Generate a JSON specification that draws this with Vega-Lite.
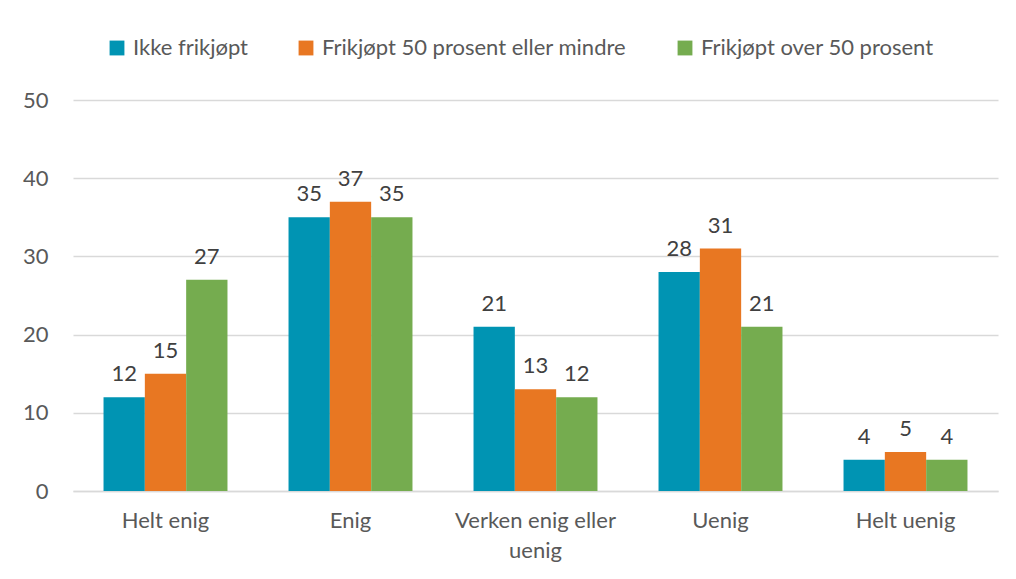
{
  "$schema": "https://vega.github.io/schema/vega-lite/v6.json",
  "width": 925,
  "height": 391,
  "autosize": {"type": "none"},
  "padding": {"left": 73, "top": 100, "right": 18, "bottom": 88},
  "background": "white",
  "config": {
    "font": "Lato",
    "view": {"stroke": null},
    "axis": {"labelFont": "Lato", "labelFontSize": 22, "labelColor": "#595959"}
  },
  "data": {
    "values": [
      {"kategori": "Helt enig", "gruppe": "Ikke frikjøpt", "verdi": 12},
      {"kategori": "Helt enig", "gruppe": "Frikjøpt 50 prosent eller mindre", "verdi": 15},
      {"kategori": "Helt enig", "gruppe": "Frikjøpt over 50 prosent", "verdi": 27},
      {"kategori": "Enig", "gruppe": "Ikke frikjøpt", "verdi": 35},
      {"kategori": "Enig", "gruppe": "Frikjøpt 50 prosent eller mindre", "verdi": 37},
      {"kategori": "Enig", "gruppe": "Frikjøpt over 50 prosent", "verdi": 35},
      {"kategori": "Verken enig eller uenig", "gruppe": "Ikke frikjøpt", "verdi": 21},
      {"kategori": "Verken enig eller uenig", "gruppe": "Frikjøpt 50 prosent eller mindre", "verdi": 13},
      {"kategori": "Verken enig eller uenig", "gruppe": "Frikjøpt over 50 prosent", "verdi": 12},
      {"kategori": "Uenig", "gruppe": "Ikke frikjøpt", "verdi": 28},
      {"kategori": "Uenig", "gruppe": "Frikjøpt 50 prosent eller mindre", "verdi": 31},
      {"kategori": "Uenig", "gruppe": "Frikjøpt over 50 prosent", "verdi": 21},
      {"kategori": "Helt uenig", "gruppe": "Ikke frikjøpt", "verdi": 4},
      {"kategori": "Helt uenig", "gruppe": "Frikjøpt 50 prosent eller mindre", "verdi": 5},
      {"kategori": "Helt uenig", "gruppe": "Frikjøpt over 50 prosent", "verdi": 4}
    ]
  },
  "encoding": {
    "x": {
      "field": "kategori", "type": "nominal", "sort": null,
      "scale": {"paddingInner": 0.33, "paddingOuter": 0.165},
      "axis": {
        "title": null, "labelAngle": 0, "ticks": false, "domain": true,
        "domainColor": "#d9d9d9", "domainWidth": 1.5, "labelPadding": 19,
        "labelLineHeight": 30, "labelLimit": 0,
        "labelExpr": "datum.value == 'Verken enig eller uenig' ? ['Verken enig eller', 'uenig'] : datum.value"
      }
    },
    "xOffset": {
      "field": "gruppe", "type": "nominal", "sort": ["Ikke frikjøpt", "Frikjøpt 50 prosent eller mindre", "Frikjøpt over 50 prosent"],
      "scale": {"paddingInner": 0, "paddingOuter": 0}
    },
    "y": {
      "field": "verdi", "type": "quantitative",
      "scale": {"domain": [0, 50]},
      "axis": {
        "title": null, "values": [0, 10, 20, 30, 40, 50], "domain": false, "ticks": false,
        "gridColor": "#d9d9d9", "gridWidth": 1.5, "labelPadding": 25
      }
    }
  },
  "layer": [
    {
      "mark": {"type": "bar"},
      "encoding": {
        "color": {
          "field": "gruppe", "type": "nominal",
          "sort": ["Ikke frikjøpt", "Frikjøpt 50 prosent eller mindre", "Frikjøpt over 50 prosent"],
          "scale": {"domain": ["Ikke frikjøpt", "Frikjøpt 50 prosent eller mindre", "Frikjøpt over 50 prosent"], "range": ["#0094B3", "#E87722", "#75AC4F"]},
          "legend": {
            "title": null, "orient": "none", "direction": "horizontal",
            "legendX": 33, "legendY": -63,
            "symbolType": "square", "symbolSize": 220, "symbolStrokeWidth": 0,
            "labelFontSize": 22, "labelColor": "#595959", "labelFont": "Lato",
            "labelLimit": 0, "columnPadding": 47, "labelOffset": 5
          }
        }
      }
    },
    {
      "mark": {"type": "text", "baseline": "bottom", "dy": -11, "fontSize": 22, "color": "#404040", "font": "Lato"},
      "encoding": {"text": {"field": "verdi", "type": "quantitative"}}
    }
  ]
}
